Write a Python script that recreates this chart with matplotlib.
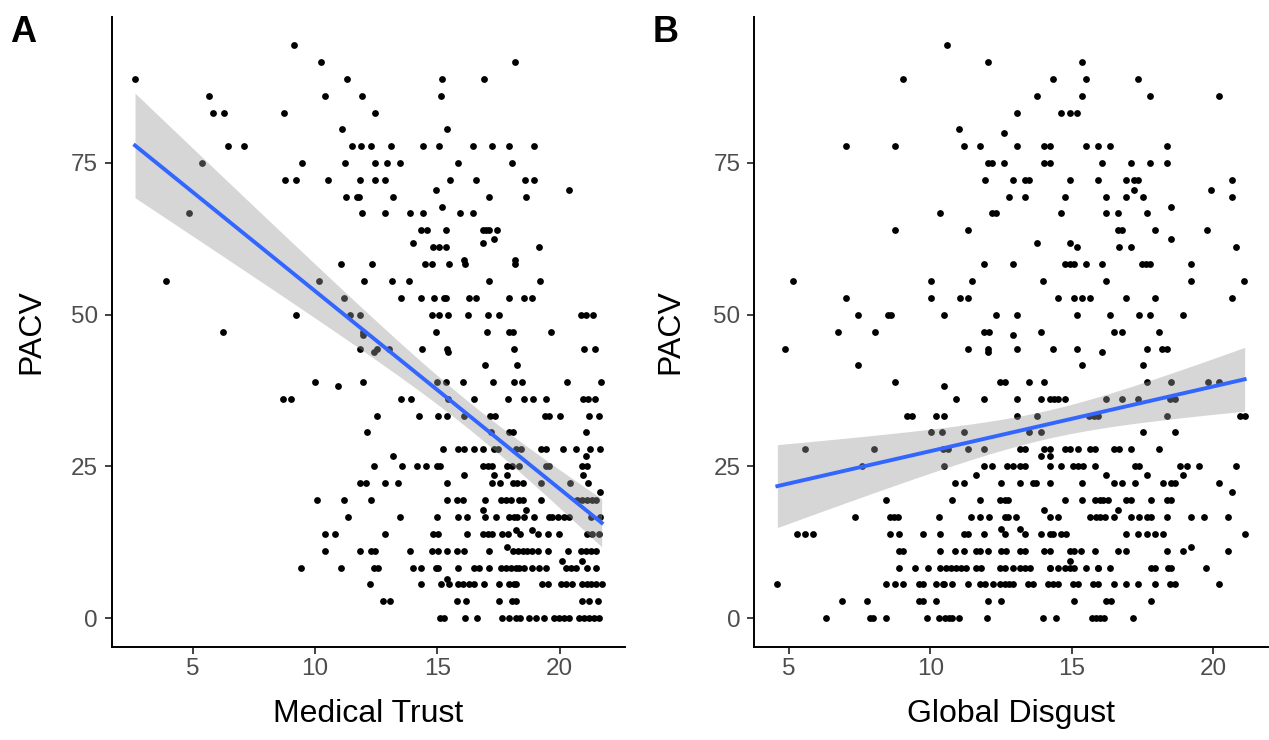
import numpy as np
import matplotlib
matplotlib.use('Agg')
import matplotlib.pyplot as plt

plt.rcParams['font.family'] = ['Liberation Sans', 'DejaVu Sans']

# PACV levels (rows) and the x values of the points found on each row
pacv_a = [94.4, 91.7, 88.9, 86.1, 83.3, 80.6, 77.8, 75.0, 72.2, 70.6, 69.4, 67.7,
          66.7, 63.9, 62.5, 61.8, 61.1, 59.0, 58.3, 55.6, 52.8, 50.0, 47.2, 46.7,
          44.4, 43.9, 41.7, 38.9, 38.2, 36.1, 33.3, 30.6, 27.8, 26.7, 25.0, 23.6,
          22.2, 20.7, 19.4, 17.8, 16.7, 14.5, 13.9, 11.7, 11.1, 9.4, 8.3, 6.4,
          5.6, 2.8, 0.0]
trust_rows = [
    [9.13],
    [10.23, 18.18],
    [2.65, 11.32, 15.18, 16.90],
    [5.68, 10.41, 11.91, 15.16],
    [5.82, 6.30, 8.73, 12.44],
    [11.09, 15.40],
    [6.45, 7.09, 11.51, 11.87, 12.27, 13.12, 14.43, 15.08, 16.47, 17.25, 17.94, 18.93],
    [5.39, 9.48, 11.24, 12.47, 12.96, 13.49, 15.86, 18.06],
    [8.76, 9.24, 10.53, 11.82, 12.44, 12.84, 15.53, 16.59, 18.58, 18.94],
    [14.95, 20.38],
    [11.26, 11.73, 11.79, 13.18, 17.09, 18.62],
    [15.19],
    [4.85, 11.94, 12.84, 13.90, 14.40, 15.94, 16.44],
    [14.35, 14.58, 15.37, 16.88, 16.99, 17.11, 17.45],
    [17.30],
    [13.99, 16.88],
    [14.84, 15.05, 15.37, 19.17],
    [16.07, 18.18],
    [11.06, 12.34, 14.48, 14.80, 15.48, 16.11, 18.19],
    [3.91, 10.16, 12.02, 13.15, 13.86, 17.09, 19.21],
    [11.17, 13.52, 14.32, 14.85, 15.29, 15.34, 16.28, 16.58, 17.91, 18.52, 18.88],
    [9.24, 11.44, 11.85, 14.78, 15.05, 15.45, 16.24, 17.07, 17.50, 20.88, 21.06, 21.37],
    [6.26, 11.96, 14.95, 17.01, 17.94, 18.10, 19.65],
    [11.96],
    [11.82, 12.54, 13.04, 14.37, 15.40, 18.11, 21.00, 21.44],
    [12.43, 15.45],
    [16.96, 18.27],
    [10.00, 11.96, 14.97, 15.35, 16.06, 17.28, 18.13, 18.45, 20.31, 21.67],
    [10.94],
    [8.71, 9.04, 13.52, 13.93, 15.42, 16.48, 17.89, 18.53, 18.90, 19.44, 20.95, 21.17, 21.44],
    [12.53, 14.23, 15.01, 15.38, 16.07, 17.16, 17.35, 19.40, 19.57, 20.01, 21.20, 21.60],
    [12.12, 17.19, 17.91, 18.07, 21.09],
    [15.24, 15.86, 16.10, 16.51, 16.88, 17.32, 17.46, 18.21, 18.41, 19.23, 19.43, 20.15,
     20.65, 21.24, 21.64],
    [13.18, 21.06],
    [12.40, 13.56, 14.17, 14.52, 14.97, 15.11, 16.85, 17.05, 17.25, 17.84, 18.03, 18.34,
     19.43, 19.57, 20.92, 21.13],
    [16.10, 17.31, 17.84, 20.95],
    [11.82, 12.09, 12.84, 13.41, 15.40, 17.23, 17.57, 18.07, 18.27, 18.48, 19.23, 20.41, 21.15],
    [21.64],
    [10.10, 11.17, 12.30, 15.38, 15.79, 16.03, 16.93, 17.58, 17.80, 18.00, 18.34, 18.48,
     19.23, 20.72, 20.92, 21.13, 21.33, 21.49],
    [16.88, 18.62],
    [11.34, 13.49, 14.97, 15.83, 16.19, 16.96, 17.39, 17.91, 18.11, 18.27, 18.55, 18.95,
     19.54, 19.70, 19.94, 20.18, 20.38, 21.27, 21.63],
    [18.21, 18.86],
    [10.41, 10.83, 12.88, 14.84, 15.01, 16.21, 16.88, 17.05, 17.25, 17.64, 17.87, 18.38,
     19.12, 19.50, 19.98, 21.13, 21.33, 21.60],
    [17.84],
    [10.39, 11.82, 12.30, 12.47, 13.90, 14.78, 15.01, 15.38, 15.79, 16.10, 17.09, 18.07,
     18.31, 18.48, 18.68, 18.88, 19.09, 19.50, 20.35, 20.86, 21.06, 21.27, 21.47],
    [20.11, 20.90],
    [9.41, 11.06, 12.43, 12.57, 13.99, 14.34, 14.95, 15.04, 15.83, 16.48, 16.71, 17.12,
     17.60, 17.80, 18.00, 18.21, 18.34, 18.55, 18.88, 19.16, 19.43, 20.25, 20.45, 20.65,
     21.10, 21.47],
    [15.38],
    [12.23, 14.34, 15.15, 15.49, 15.83, 16.03, 16.30, 16.51, 16.92, 17.53, 17.94, 18.11,
     18.21, 19.27, 19.50, 20.04, 20.25, 20.49, 20.90, 21.10, 21.29, 21.49, 21.71],
    [12.77, 13.08, 15.80, 16.17, 17.53, 18.04, 18.21, 20.90, 21.20, 21.54],
    [15.09, 15.27, 16.11, 16.62, 17.62, 17.94, 18.21, 18.37, 18.75, 19.02, 19.36, 19.77,
     19.98, 20.18, 20.38, 20.79, 20.99, 21.20, 21.40, 21.60],
]

pacv_b = [94.4, 91.7, 88.9, 86.1, 83.3, 80.6, 80.0, 77.8, 75.0, 72.2, 70.6, 69.4,
          67.7, 66.7, 63.9, 62.5, 61.8, 61.1, 58.3, 55.6, 52.8, 50.0, 47.2, 46.7,
          44.4, 43.9, 41.7, 38.9, 38.2, 36.1, 33.3, 30.6, 27.8, 26.7, 25.0, 23.6,
          22.2, 20.7, 19.4, 17.8, 16.7, 14.7, 13.9, 11.7, 11.1, 9.4, 8.3, 5.6,
          2.8, 0.0]
disgust_rows = [
    [10.60],
    [12.05, 15.36],
    [9.05, 14.34, 15.51, 17.36],
    [13.79, 15.36, 17.78, 20.22],
    [13.05, 14.64, 14.93, 15.20],
    [11.03],
    [12.62],
    [7.03, 8.75, 11.19, 11.75, 13.05, 14.04, 14.22, 15.51, 15.93, 16.36, 18.39],
    [12.04, 12.19, 12.62, 14.04, 14.22, 16.07, 17.09, 17.78, 18.39],
    [11.92, 12.92, 13.34, 13.49, 14.93, 15.93, 16.93, 17.20, 17.35, 20.67],
    [17.22, 19.93],
    [12.77, 13.35, 14.78, 16.23, 16.93, 17.52, 20.67],
    [18.52],
    [10.33, 12.18, 12.34, 14.64, 16.23, 16.65, 17.65],
    [8.75, 11.33, 16.65, 16.79, 17.95, 19.80],
    [18.52],
    [13.79, 14.93],
    [15.20, 16.66, 17.09, 20.80],
    [11.90, 12.92, 14.78, 14.93, 15.07, 15.51, 16.07, 17.50, 17.64, 17.78, 19.23],
    [5.14, 10.04, 11.47, 14.00, 16.23, 19.23, 21.09],
    [7.03, 10.04, 11.04, 11.33, 14.51, 15.07, 15.36, 15.64, 16.93, 17.94, 20.67],
    [7.45, 8.50, 8.62, 10.47, 12.34, 13.05, 15.20, 16.37, 17.37, 17.78, 18.94],
    [6.73, 8.03, 11.89, 12.06, 13.91, 16.50, 16.79, 18.09],
    [12.92],
    [4.87, 11.33, 12.04, 13.05, 14.34, 15.20, 17.65, 18.19, 18.37],
    [12.04, 16.07],
    [7.45, 15.36, 17.51],
    [8.75, 12.45, 12.63, 13.49, 14.04, 17.65, 18.51, 19.81, 20.22],
    [10.47],
    [10.91, 11.90, 13.05, 13.91, 14.22, 14.36, 14.51, 14.75, 16.23, 16.79, 17.35, 18.49, 18.64],
    [9.19, 9.35, 10.19, 10.47, 13.05, 13.79, 15.61, 15.79, 15.95, 18.39, 20.94, 21.12],
    [10.04, 10.43, 11.19, 13.49, 13.91, 17.51, 18.64],
    [5.58, 8.02, 10.45, 10.62, 11.33, 11.90, 13.16, 13.34, 14.04, 14.22, 14.75, 14.93,
     15.23, 15.64, 15.82, 16.50, 16.67, 17.09, 18.09],
    [13.91, 14.22],
    [7.60, 10.47, 11.90, 12.18, 12.73, 12.92, 13.16, 13.34, 14.22, 14.64, 15.05, 15.23,
     15.40, 15.82, 17.23, 17.39, 18.82, 19.09, 19.50, 20.80],
    [11.63, 16.23, 17.65, 18.94],
    [10.89, 11.19, 12.49, 13.19, 13.62, 13.74, 14.22, 15.36, 16.50, 16.79, 17.23, 18.23,
     18.52, 18.64, 20.22],
    [20.67],
    [8.45, 10.76, 11.75, 12.45, 12.63, 12.75, 14.78, 15.36, 15.81, 15.99, 16.11, 16.28,
     16.93, 17.11, 17.79, 18.39, 18.53],
    [14.04, 16.65],
    [7.32, 8.59, 8.70, 8.86, 10.32, 11.45, 11.75, 12.06, 12.63, 12.75, 13.04, 14.22,
     14.51, 15.64, 15.87, 15.99, 16.17, 16.50, 17.09, 17.39, 17.65, 17.82, 18.39, 19.23,
     19.67, 20.53],
    [12.49, 13.19],
    [5.30, 5.58, 5.85, 8.59, 8.88, 9.74, 10.33, 11.19, 11.33, 11.90, 12.63, 13.34, 13.93,
     14.22, 14.34, 14.64, 14.81, 16.93, 17.35, 17.65, 17.94, 18.23, 21.12],
    [19.23],
    [8.88, 9.03, 10.33, 10.89, 11.19, 11.63, 11.75, 12.05, 12.49, 12.69, 13.16, 13.34,
     14.04, 14.22, 14.93, 15.07, 15.34, 15.82, 16.64, 16.93, 18.39, 18.94, 20.53],
    [14.93],
    [8.88, 9.47, 9.92, 10.33, 10.57, 10.74, 10.92, 11.10, 11.25, 11.63, 11.78, 12.45,
     12.63, 12.92, 13.19, 13.34, 13.51, 14.22, 14.22, 14.51, 14.78, 14.93, 15.07, 15.52,
     15.93, 15.93, 16.34, 17.79, 17.94, 18.41, 18.53, 19.74],
    [4.59, 8.45, 8.74, 9.03, 9.60, 9.74, 10.19, 10.45, 10.47, 10.77, 11.33, 11.75, 11.92,
     12.22, 12.48, 12.63, 12.78, 12.92, 13.45, 13.63, 14.16, 14.34, 14.51, 15.05, 15.23,
     15.75, 15.93, 16.50, 16.93, 17.35, 17.94, 18.47, 18.64, 20.22],
    [6.89, 7.76, 9.60, 9.74, 10.19, 12.05, 12.49, 15.07, 16.23, 16.40, 17.79],
    [6.30, 7.86, 7.98, 8.42, 9.88, 10.30, 10.53, 10.65, 10.77, 11.00, 12.00, 13.98, 14.46,
     15.73, 15.87, 15.99, 16.13, 17.17],
]


def flatten(levels, rows):
    xs, ys = [], []
    for lev, row in zip(levels, rows):
        xs += row
        ys += [lev] * len(row)
    return np.array(xs), np.array(ys)


def lm_band(x, y, n=80):
    # straight-line fit with 95% confidence band, like geom_smooth(method = "lm")
    b, a = np.polyfit(x, y, 1)
    xg = np.linspace(x.min(), x.max(), n)
    yhat = a + b * xg
    resid = y - (a + b * x)
    s = np.sqrt(np.sum(resid ** 2) / (len(x) - 2))
    sxx = np.sum((x - x.mean()) ** 2)
    se = s * np.sqrt(1 / len(x) + (xg - x.mean()) ** 2 / sxx)
    return xg, yhat, yhat - 1.965 * se, yhat + 1.965 * se


fig = plt.figure(figsize=(12.69, 7.4), dpi=100)
ax_a = fig.add_axes([111.7 / 1269, 1 - 646.7 / 740, 513.3 / 1269, 630.1 / 740])
ax_b = fig.add_axes([754 / 1269, 1 - 646.7 / 740, 514 / 1269, 630.1 / 740])

panels = [
    (ax_a, pacv_a, trust_rows, 'Medical Trust', 'A', 10 / 1269, 31 / 1269),
    (ax_b, pacv_b, disgust_rows, 'Global Disgust', 'B', 653 / 1269, 670 / 1269),
]

for ax, levels, rows, xlab, tag, tag_x, ylab_x in panels:
    x, y = flatten(levels, rows)
    ax.scatter(x, y, s=24, color='black', linewidths=0, zorder=2)
    xg, yhat, lo, hi = lm_band(x, y)
    ax.fill_between(xg, lo, hi, color='#999999', alpha=0.4, linewidth=0, zorder=3)
    ax.plot(xg, yhat, color='#3366FF', lw=2.8, zorder=4)

    xr = x.max() - x.min()
    ax.set_xlim(x.min() - 0.05 * xr, x.max() + 0.05 * xr)
    yr = y.max() - y.min()
    ax.set_ylim(y.min() - 0.05 * yr, y.max() + 0.05 * yr)

    ax.set_xticks([5, 10, 15, 20])
    ax.set_yticks([0, 25, 50, 75])
    for side in ['top', 'right']:
        ax.spines[side].set_visible(False)
    for side in ['left', 'bottom']:
        ax.spines[side].set_linewidth(1.4)
        ax.spines[side].set_color('black')
    ax.tick_params(axis='both', length=4.8, width=1.3, color='#333333',
                   labelcolor='#4D4D4D', labelsize=17.5)
    ax.tick_params(axis='x', pad=3)
    ax.tick_params(axis='y', pad=5)

    ax.set_xlabel(xlab, fontsize=23, color='black')
    ax.xaxis.set_label_coords(0.5, -0.083)
    fig.text(ylab_x, 1 - 331.6 / 740, 'PACV', rotation=90, fontsize=23,
             ha='center', va='center')
    fig.text(tag_x, 1 - 42 / 740, tag, fontsize=26, fontweight='bold',
             ha='left', va='baseline')

fig.savefig('out.png', dpi=100)
